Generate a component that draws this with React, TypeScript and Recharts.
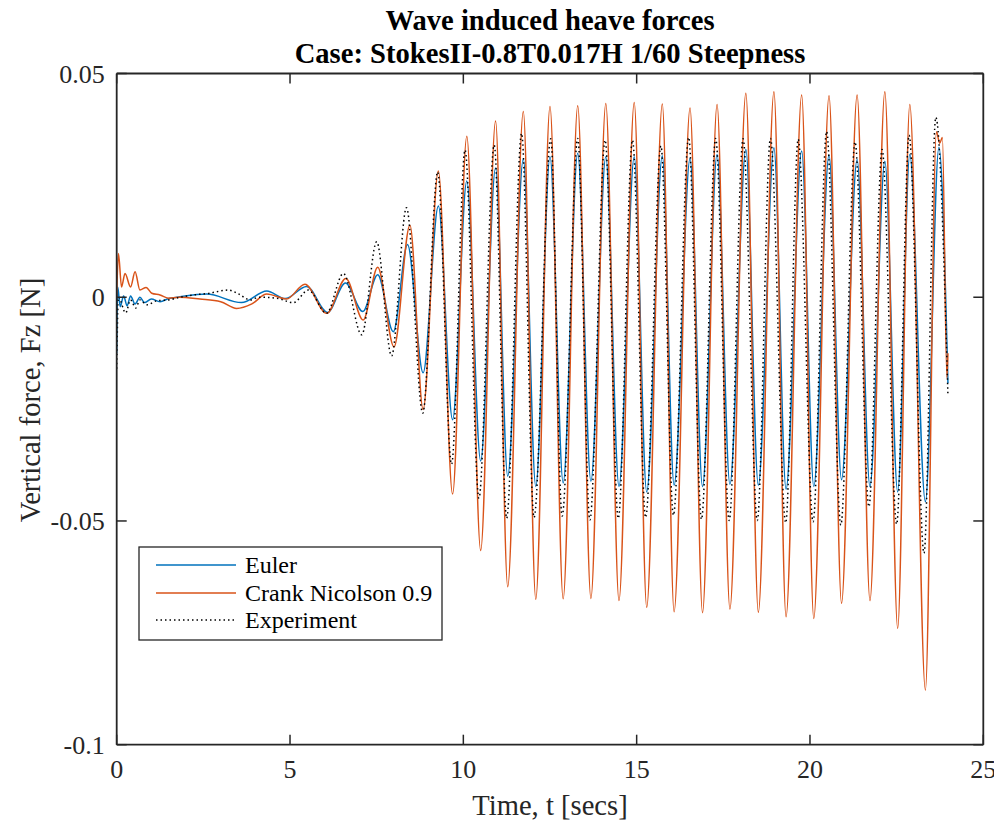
import React from 'react';
import { LineChart, Line, XAxis, YAxis } from 'recharts';

// ---- data ----
const xTicks = [0, 5, 10, 15, 20, 25];
const yTicks = [-0.1, -0.05, 0, 0.05];
const yTickLabels: Record<string, string> = { '-0.1': '-0.1', '-0.05': '-0.05', '0': '0', '0.05': '0.05' };

const eulerT = [0, 0.03, 0.1, 0.2, 0.3, 0.4, 0.53, 0.67, 0.8, 1.0, 1.25, 1.5, 1.83, 2.6, 3.6, 4.33, 4.86, 5.48, 6.08, 6.6, 7.1, 7.53, 7.98, 8.39, 8.84, 9.28, 9.69, 10.1, 10.5, 10.93, 11.28, 11.73, 12.09, 12.5, 12.88, 13.3, 13.68, 14.11, 14.49, 14.93, 15.29, 15.74, 16.08, 16.54, 16.9, 17.32, 17.69, 18.15, 18.51, 18.96, 19.31, 19.76, 20.11, 20.55, 20.91, 21.36, 21.73, 22.16, 22.53, 22.88, 23.33, 23.72, 23.98];
const eulerV = [-0.0125, 0.0023, -0.0021, 0.0003, -0.0019, 0.0003, -0.0015, 0.0, -0.0012, -0.0004, -0.001, -0.0003, 0.0001, 0.0007, -0.0012, 0.0014, -0.0003, 0.0024, -0.0034, 0.0032, -0.0032, 0.005, -0.0077, 0.0118, -0.0169, 0.0204, -0.0274, 0.026, -0.0366, 0.0289, -0.04, 0.0309, -0.0423, 0.0314, -0.0415, 0.0322, -0.0411, 0.0314, -0.0423, 0.0314, -0.0435, 0.0316, -0.042, 0.031, -0.0423, 0.0319, -0.0418, 0.033, -0.042, 0.0334, -0.0429, 0.0327, -0.0423, 0.0318, -0.0408, 0.0308, -0.0423, 0.0304, -0.0435, 0.0319, -0.0457, 0.0335, -0.0192];

const crankT = [0, 0.05, 0.14, 0.24, 0.4, 0.53, 0.67, 0.85, 1.01, 1.25, 1.49, 1.8, 2.4, 3.0, 3.46, 3.9, 4.33, 4.9, 5.43, 6.06, 6.61, 7.11, 7.53, 8.0, 8.46, 8.84, 9.28, 9.69, 10.1, 10.5, 10.93, 11.28, 11.73, 12.09, 12.5, 12.88, 13.3, 13.68, 14.11, 14.49, 14.93, 15.29, 15.74, 16.08, 16.54, 16.9, 17.32, 17.69, 18.15, 18.51, 18.96, 19.31, 19.76, 20.11, 20.55, 20.91, 21.36, 21.73, 22.16, 22.53, 22.88, 23.33, 23.65, 23.74, 23.82, 23.95, 23.98];
const crankV = [0.0, 0.0098, 0.0023, 0.0053, 0.0023, 0.0057, 0.0016, 0.0022, 0.0009, 0.0005, -0.0002, 0.0, -0.0004, -0.001, -0.0025, -0.0015, 0.0007, -0.0004, 0.0029, -0.0036, 0.0042, -0.0051, 0.0067, -0.0111, 0.0161, -0.0251, 0.0282, -0.044, 0.036, -0.0566, 0.0394, -0.0647, 0.0415, -0.0675, 0.0426, -0.0674, 0.0428, -0.0673, 0.0433, -0.0678, 0.0435, -0.0693, 0.0432, -0.0703, 0.0423, -0.0705, 0.0431, -0.0697, 0.0456, -0.0704, 0.0459, -0.0714, 0.0452, -0.0718, 0.045, -0.0684, 0.0452, -0.0678, 0.0459, -0.074, 0.0431, -0.0878, 0.037, 0.0344, 0.0357, -0.018, -0.0125];

const expT = [0, 0.05, 0.26, 0.4, 0.55, 0.67, 0.87, 1.15, 1.5, 1.83, 2.2, 2.6, 3.22, 3.5, 3.85, 4.1, 4.6, 5.1, 5.53, 6.05, 6.54, 7.07, 7.5, 7.93, 8.36, 8.83, 9.26, 9.66, 10.05, 10.45, 10.89, 11.25, 11.68, 12.04, 12.52, 12.85, 13.3, 13.65, 14.09, 14.47, 14.88, 15.26, 15.7, 16.06, 16.5, 16.87, 17.28, 17.67, 18.07, 18.48, 18.86, 19.3, 19.66, 20.09, 20.48, 20.89, 21.3, 21.7, 22.08, 22.5, 22.86, 23.29, 23.63, 23.98];
const expV = [-0.016, 0.0, -0.0035, -0.0006, -0.0024, -0.0006, -0.0017, -0.0008, -0.0006, 0.0, 0.0005, 0.0008, 0.0016, 0.0008, -0.0006, 0.0, -0.0002, -0.0012, 0.0016, -0.0036, 0.0053, -0.0084, 0.0124, -0.0131, 0.02, -0.0259, 0.028, -0.0373, 0.0329, -0.0449, 0.034, -0.0494, 0.0366, -0.0492, 0.0354, -0.0489, 0.0355, -0.0498, 0.0351, -0.0494, 0.0351, -0.0492, 0.0338, -0.0487, 0.0357, -0.0496, 0.0355, -0.0499, 0.0354, -0.0499, 0.0355, -0.0504, 0.0353, -0.0502, 0.037, -0.0509, 0.0347, -0.0468, 0.033, -0.0507, 0.0362, -0.0572, 0.0402, -0.022];

const seriesNames = ['Euler', 'Crank Nicolson 0.9', 'Experiment'];
const titleLines = ['Wave induced heave forces', 'Case: StokesII-0.8T0.017H 1/60 Steepness'];
const xLabel = 'Time, t [secs]';
const yLabel = 'Vertical force, Fz [N]';

// ---- styling / layout ----
const FONT = '"Liberation Serif", "Times New Roman", Times, serif';
const AXIS = '#262626';
const BLUE = '#0072BD';
const ORANGE = '#D95319';
const W = 986;
const H = 811;
const AX = 20; // axis band size
const margin = { top: 65.5 - AX, right: 10.7 - 10, bottom: 74.3 - AX, left: 108.7 - AX };
// page coords of plot box (chart sits at 8,8 inside page)
const PL = 116.7, PR = 983.3, PT = 73.5, PB = 744.7;
const pageCx = (PL + PR) / 2;

const toPoints = (ts: number[], vs: number[]) => ts.map((t, i) => ({ t, v: vs[i] }));
const eulerData = toPoints(eulerT, eulerV);
const crankData = toPoints(crankT, crankV);
const expData = toPoints(expT, expV);

const TICK_LEN = 10;

const BottomTick = (p: any) => {
  const { x, y, payload } = p;
  return (
    <g>
      <line x1={x} y1={y} x2={x} y2={y - TICK_LEN} stroke={AXIS} strokeWidth={1.5} />
      <text x={x} y={y + 33} textAnchor="middle" fontFamily={FONT} fontSize={26} fill={AXIS}>
        {payload.value}
      </text>
    </g>
  );
};
const TopTick = (p: any) => {
  const { x, y } = p;
  return <line x1={x} y1={y} x2={x} y2={y + TICK_LEN} stroke={AXIS} strokeWidth={1.5} />;
};
const LeftTick = (p: any) => {
  const { x, y, payload } = p;
  const key = String(payload.value);
  return (
    <g>
      <line x1={x} y1={y} x2={x + TICK_LEN} y2={y} stroke={AXIS} strokeWidth={1.5} />
      <text x={x - 12} y={y + 9} textAnchor="end" fontFamily={FONT} fontSize={26} fill={AXIS}>
        {yTickLabels[key] ?? key}
      </text>
    </g>
  );
};
const RightTick = (p: any) => {
  const { x, y } = p;
  return <line x1={x} y1={y} x2={x - TICK_LEN} y2={y} stroke={AXIS} strokeWidth={1.5} />;
};

const axisCommon = {
  tickSize: 0,
  tickMargin: 0,
  tickLine: false,
  interval: 0 as const,
  allowDataOverflow: true,
  axisLine: { stroke: AXIS, strokeWidth: 1.8 },
};

export default function App() {
  return (
    <div style={{ position: 'relative', width: W, height: H + 8, background: '#fff' }}>
      <style>{`.recharts-surface{overflow:visible}.recharts-wrapper{overflow:visible}`}</style>
      <LineChart width={W} height={H} margin={margin}>
        <XAxis xAxisId="b" dataKey="t" type="number" domain={[0, 25]} ticks={xTicks} height={AX} tick={<BottomTick />} {...axisCommon} />
        <XAxis xAxisId="top" orientation="top" dataKey="t" type="number" domain={[0, 25]} ticks={xTicks} height={AX} tick={<TopTick />} {...axisCommon} />
        <YAxis yAxisId="l" type="number" domain={[-0.1, 0.05]} ticks={yTicks} width={AX} tick={<LeftTick />} {...axisCommon} />
        <YAxis yAxisId="r" orientation="right" type="number" domain={[-0.1, 0.05]} ticks={yTicks} width={10} tick={<RightTick />} {...axisCommon} />
        <Line xAxisId="b" yAxisId="l" data={eulerData} dataKey="v" type="monotone" stroke={BLUE} strokeWidth={1.5} dot={false} isAnimationActive={false} />
        <Line xAxisId="b" yAxisId="l" data={crankData} dataKey="v" type="monotone" stroke={ORANGE} strokeWidth={1.5} dot={false} isAnimationActive={false} />
        <Line xAxisId="b" yAxisId="l" data={expData} dataKey="v" type="monotone" stroke="#000" strokeWidth={1.5} strokeDasharray="1.5 3" dot={false} isAnimationActive={false} />
      </LineChart>
      <svg width={1002} height={827} style={{ position: 'absolute', left: -8, top: -8, pointerEvents: 'none' }}>
        <text x={pageCx} y={30} textAnchor="middle" fontFamily={FONT} fontWeight="bold" fontSize={28.6} fill="#000">{titleLines[0]}</text>
        <text x={pageCx} y={63} textAnchor="middle" fontFamily={FONT} fontWeight="bold" fontSize={28.6} fill="#000">{titleLines[1]}</text>
        <text x={pageCx} y={815} textAnchor="middle" fontFamily={FONT} fontSize={28.6} fill={AXIS}>{xLabel}</text>
        <text transform={`translate(40, ${(PT + PB) / 2 - 9}) rotate(-90)`} textAnchor="middle" fontFamily={FONT} fontSize={28.6} fill={AXIS}>{yLabel}</text>
        <g transform="translate(139, 547)">
          <rect x={0} y={0} width={303} height={93} fill="#fff" stroke={AXIS} strokeWidth={1.3} />
          <line x1={17} y1={18} x2={97} y2={18} stroke={BLUE} strokeWidth={1.5} />
          <line x1={17} y1={46} x2={97} y2={46} stroke={ORANGE} strokeWidth={1.5} />
          <line x1={17} y1={73} x2={97} y2={73} stroke="#000" strokeWidth={1.5} strokeDasharray="1.5 3" />
          <text x={106} y={26} fontFamily={FONT} fontSize={24} fill="#000">{seriesNames[0]}</text>
          <text x={106} y={54} fontFamily={FONT} fontSize={24} fill="#000">{seriesNames[1]}</text>
          <text x={106} y={81} fontFamily={FONT} fontSize={24} fill="#000">{seriesNames[2]}</text>
        </g>
      </svg>
    </div>
  );
}
